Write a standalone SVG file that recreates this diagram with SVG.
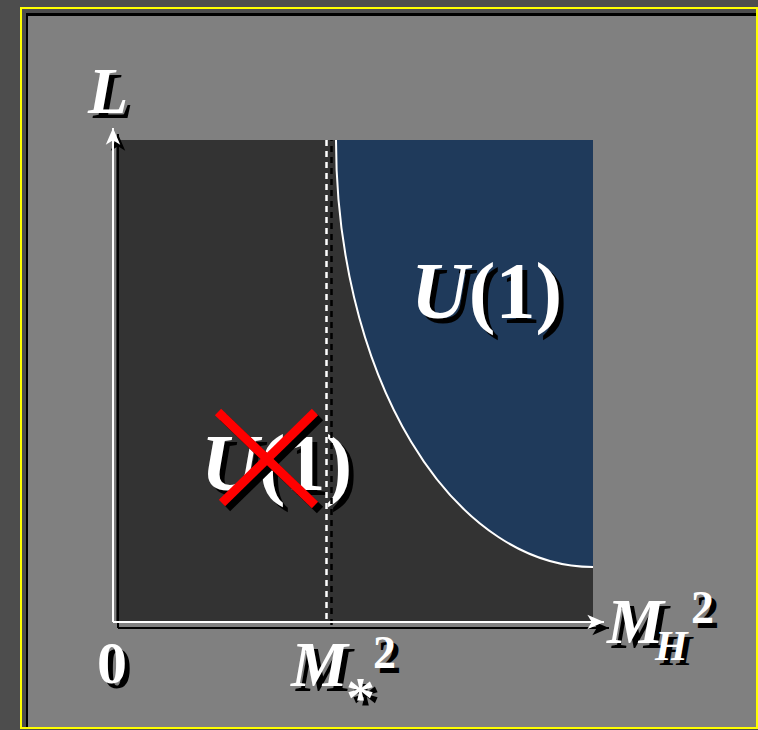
<svg xmlns="http://www.w3.org/2000/svg" xmlns:xlink="http://www.w3.org/1999/xlink" width="758" height="730" viewBox="0 0 758 730">
<style>
.t{font-family:"Liberation Serif","Times New Roman",serif;font-weight:bold}
.i{font-style:italic}
.ax{stroke-width:2;fill:none}
</style>
<defs>
<marker id="aw" markerUnits="userSpaceOnUse" markerWidth="20" markerHeight="20" viewBox="-16 -8 18 16" refX="0" refY="0" orient="auto">
<path d="M0,0 L-15,-6.5 L-11,0 L-15,6.5 Z" fill="#fff"/>
</marker>
<marker id="ab" markerUnits="userSpaceOnUse" markerWidth="20" markerHeight="20" viewBox="-16 -8 18 16" refX="0" refY="0" orient="auto">
<path d="M0,0 L-15,-6.5 L-11,0 L-15,6.5 Z" fill="#000"/>
</marker>
<g id="labL"><text class="t i" x="88" y="113" font-size="66">L</text></g>
<g id="labU1"><text class="t" x="411" y="318" font-size="80"><tspan class="i">U</tspan>(1)</text></g>
<g id="labU2"><text class="t" x="201" y="490" font-size="80"><tspan class="i">U</tspan>(1)</text></g>
<g id="lab0"><text class="t" x="97" y="683" font-size="60">0</text></g>
<g id="labMs"><text class="t i" x="291" y="686" font-size="64">M</text><text class="t" x="346" y="717" font-size="58">*</text><text class="t" x="373" y="668" font-size="46">2</text></g>
<g id="labMH"><text class="t i" x="607" y="643" font-size="64">M</text><text class="t i" x="655" y="660" font-size="42">H</text><text class="t" x="691" y="623" font-size="46">2</text></g>
</defs>
<rect width="758" height="730" fill="#4d4d4d"/>
<rect x="21" y="8" width="736" height="720" fill="#4d4d4d" stroke="#ffff00" stroke-width="2"/>
<rect x="26" y="13" width="730" height="714" fill="#000"/>
<rect x="28" y="16" width="728" height="711" fill="#808080"/>
<g id="plot">
<rect x="116" y="140" width="477" height="481" fill="#333333"/>
<path d="M336,140 A257,427 0 0 0 593,567 L593,140 Z" fill="#1f3a5b"/>
<path d="M336,140 A257,427 0 0 0 593,567" fill="none" stroke="#fff" stroke-width="2"/>
</g>
<g id="labels">
<use xlink:href="#labL" fill="#000" transform="translate(5,5)"/><use xlink:href="#labL" fill="#fff"/>
<use xlink:href="#labU1" fill="#000" transform="translate(5,5)"/><use xlink:href="#labU1" fill="#fff"/>
<use xlink:href="#labU2" fill="#000" transform="translate(5,5)"/><use xlink:href="#labU2" fill="#fff"/>
<use xlink:href="#lab0" fill="#000" transform="translate(5,5)"/><use xlink:href="#lab0" fill="#fff"/>
<use xlink:href="#labMs" fill="#000" transform="translate(5,5)"/><use xlink:href="#labMs" fill="#fff"/>
<use xlink:href="#labMH" fill="#000" transform="translate(5,5)"/><use xlink:href="#labMH" fill="#fff"/>
</g>
<g id="connectors">
<line x1="331.5" y1="140" x2="331.5" y2="628" stroke="#000" stroke-width="2.5" stroke-dasharray="6 5" stroke-dashoffset="5"/>
<line x1="326.5" y1="140" x2="326.5" y2="621" stroke="#fff" stroke-width="2.5" stroke-dasharray="6 5"/>
<g id="cross">
<line x1="223" y1="417" x2="320" y2="510" stroke="#000" stroke-width="9"/>
<line x1="320" y1="417" x2="227" y2="508" stroke="#000" stroke-width="9"/>
<line x1="218" y1="412" x2="315" y2="505" stroke="#ff0000" stroke-width="9"/>
<line x1="315" y1="412" x2="222" y2="503" stroke="#ff0000" stroke-width="9"/>
</g>
<line class="ax" x1="118" y1="628" x2="118" y2="134" stroke="#000" marker-end="url(#ab)"/>
<line class="ax" x1="118" y1="628" x2="609" y2="628" stroke="#000" marker-end="url(#ab)"/>
<line class="ax" x1="113" y1="622" x2="113" y2="128" stroke="#fff" marker-end="url(#aw)"/>
<line class="ax" x1="113" y1="622" x2="604" y2="622" stroke="#fff" marker-end="url(#aw)"/>
</g>
</svg>
